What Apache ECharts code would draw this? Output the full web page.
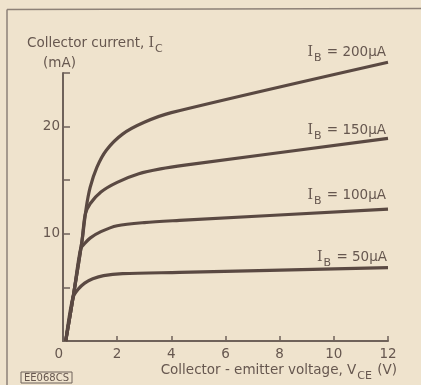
<!DOCTYPE html>
<html>
<head>
<meta charset="utf-8">
<script src="https://cdn.jsdelivr.net/npm/echarts@6/dist/echarts.min.js"></script>
<style>
  html, body { margin: 0; padding: 0; background: #efe3cd; }
  #chart { width: 421px; height: 385px; }
</style>
</head>
<body>
<div id="chart"></div>
<script>
// Transistor output characteristics: collector current vs collector-emitter voltage
const xTicks = [0, 2, 4, 6, 8, 10, 12];
const yLabelled = [10, 20];

// [V_CE (V), I_C (mA)] for each base current
const ib50 = [[0.1,0],[0.36,4.0],[0.55,4.8],[0.8,5.4],[1.1,5.8],[1.5,6.1],[2.2,6.28],[4.3,6.4],[12,6.85]];
const ib100 = [[0.1,0],[0.4,4.5],[0.65,8.6],[0.8,9.1],[1.0,9.6],[1.4,10.2],[2.0,10.75],[3.0,11.05],[4.3,11.25],[12,12.3]];
const ib150 = [[0.1,0],[0.4,4.5],[0.7,9.3],[0.82,11.8],[1.0,12.8],[1.4,13.9],[2.0,14.8],[2.8,15.6],[3.6,16.05],[4.5,16.4],[12,18.9]];
const ib200 = [[0.1,0],[0.4,4.5],[0.7,9.3],[0.85,12.3],[1.0,14.3],[1.25,16.2],[1.6,17.8],[2.2,19.3],[3.0,20.4],[4.0,21.3],[12,26.0]];

const curveNames = ['50', '100', '150', '200'];
const curveData = [ib50, ib100, ib150, ib200];

const ink = '#5a4942';
const textInk = '#66574f';
const axisInk = '#6f625a';
const font = '"DejaVu Sans", sans-serif';
const serif = '"DejaVu Serif", serif';

const chart = echarts.init(document.getElementById('chart'), null, { renderer: 'canvas' });

// rich-text styles: main text sits at the top of the line box, subscripts at the bottom
const richBase = {
  t: { fontFamily: font, fontSize: 13.5, lineHeight: 20, verticalAlign: 'top', fill: textInk },
  i: { fontFamily: serif, fontSize: 14, lineHeight: 20, verticalAlign: 'top', fill: textInk },
  s: { fontFamily: font, fontSize: 11, lineHeight: 20, verticalAlign: 'bottom', fill: textInk, padding: [0, 1, 1, 1] }
};

function ibLabel(value, x, y) {
  return {
    type: 'text', x: x, y: y,
    style: {
      text: '{i|I}{s|B}{t| = ' + value + '\u03bcA}',
      align: 'right', verticalAlign: 'middle',
      rich: richBase
    }
  };
}

chart.setOption({
  backgroundColor: '#efe3cd',
  animation: false,
  grid: { left: 63, top: 73, right: 33, bottom: 44 },
  xAxis: {
    type: 'value', min: 0, max: 12, interval: 2,
    axisLine: { lineStyle: { color: axisInk, width: 2 } },
    axisTick: { inside: true, length: 5, lineStyle: { color: axisInk, width: 1.5 } },
    splitLine: { show: false },
    axisLabel: {
      color: textInk, fontFamily: font, fontSize: 13.5, margin: 6,
      alignMinLabel: 'right',
      formatter: v => xTicks.includes(v) ? String(v) : ''
    }
  },
  yAxis: {
    type: 'value', min: 0, max: 25, interval: 5,
    axisLine: { lineStyle: { color: axisInk, width: 2 } },
    axisTick: { inside: true, length: 7, lineStyle: { color: axisInk, width: 1.5 } },
    splitLine: { show: false },
    axisLabel: {
      color: textInk, fontFamily: font, fontSize: 13.5, margin: 3,
      formatter: v => yLabelled.includes(v) ? String(v) : ''
    }
  },
  series: curveData.map((d, i) => ({
    name: curveNames[i],
    type: 'line',
    data: d,
    clip: false,
    smooth: 0.3,
    showSymbol: false,
    lineStyle: { color: ink, width: 3.2 }
  })),
  graphic: [
    // frame lines
    { type: 'line', shape: { x1: 7, y1: 9.5, x2: 7, y2: 385 }, style: { stroke: '#8d8177', lineWidth: 1.5 } },
    { type: 'line', shape: { x1: 7, y1: 9.5, x2: 421, y2: 8.5 }, style: { stroke: '#8d8177', lineWidth: 1.5 } },
    // y-axis title
    {
      type: 'text', x: 27, y: 46,
      style: {
        text: '{t|Collector current, }{i|I}{s|C}',
        verticalAlign: 'middle',
        rich: richBase
      }
    },
    { type: 'text', x: 43, y: 63, style: { text: '(mA)', fontFamily: font, fontSize: 13.5, fill: textInk, verticalAlign: 'middle' } },
    // x-axis title
    {
      type: 'text', x: 397, y: 373,
      style: {
        text: '{t|Collector - emitter voltage, V}{s|CE}{t| (V)}',
        align: 'right', verticalAlign: 'middle',
        rich: richBase
      }
    },
    // curve labels
    ibLabel(200, 386, 55),
    ibLabel(150, 386, 133),
    ibLabel(100, 386, 198),
    ibLabel(50, 387, 260),
    // figure reference tag
    {
      type: 'group', x: 21, y: 372,
      children: [
        { type: 'rect', shape: { x: 0, y: 0, width: 51, height: 11 }, style: { fill: 'none', stroke: '#6f625a', lineWidth: 1 } },
        { type: 'text', x: 25.5, y: 6, style: { text: 'EE068CS', fontFamily: font, fontSize: 10, fill: textInk, align: 'center', verticalAlign: 'middle' } }
      ]
    }
  ]
});
</script>
</body>
</html>
